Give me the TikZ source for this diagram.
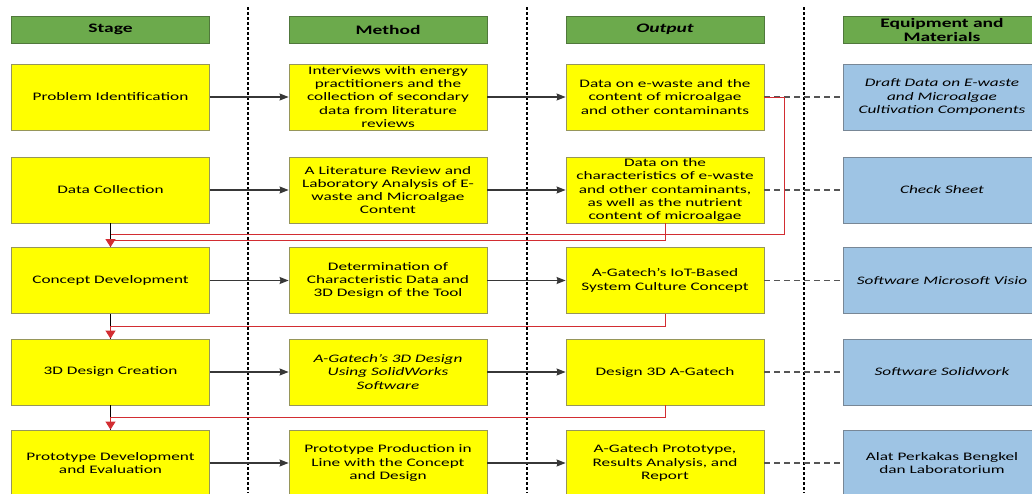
\documentclass[tikz,border=0pt]{standalone}
\usepackage{fontspec}
\setmainfont[FakeStretch=1.5]{Carlito}
\usetikzlibrary{arrows.meta}

\definecolor{headgreen}{RGB}{108,170,76}
\definecolor{headborder}{RGB}{80,120,60}
\definecolor{boxyellow}{RGB}{255,255,0}
\definecolor{yborder}{RGB}{150,150,90}
\definecolor{boxblue}{RGB}{158,196,228}
\definecolor{bborder}{RGB}{120,135,150}
\definecolor{flowgray}{RGB}{55,55,55}
\definecolor{linkgray}{RGB}{85,85,85}
\definecolor{backred}{RGB}{210,45,50}

\tikzset{
	headbox/.style={draw=headborder, fill=headgreen, line width=0.8pt, minimum width=198pt, minimum height=27pt, inner sep=0pt, align=center, font=\fontsize{13}{14}\selectfont\bfseries},
	ybox/.style={draw=yborder, fill=boxyellow, line width=0.8pt, minimum width=198pt, minimum height=66pt, inner sep=0pt, align=center, font=\fontsize{11.5}{13.3}\selectfont},
	bluebox/.style={ybox, draw=bborder, fill=boxblue},
	itext/.style={font=\fontsize{11.5}{13.3}\selectfont\itshape},
	sepline/.style={line width=1.6pt, dash pattern=on 3pt off 2pt},
	fwdarrow/.style={draw=flowgray, line width=1.2pt, -{Stealth[length=9pt, width=7pt, inset=1pt]}},
	eqlink/.style={draw=linkgray, line width=1.2pt, dash pattern=on 6pt off 4pt},
	stemline/.style={line width=1.5pt},
	backline/.style={draw=backred, line width=1pt},
	backtip/.style={backline, -{Triangle[length=8pt, width=10pt, fill=backred]}},
}

\begin{document}
\begin{tikzpicture}[x=1pt, y=-1pt]
		\useasboundingbox (0,0) rectangle (1032,493);
		\clip (0,0) rectangle (1032,493);

		% column separators
		\draw[sepline] (248,7) -- (248,493);
		\draw[sepline] (527,7) -- (527,493);
		\draw[sepline] (804,7) -- (804,493);

		% headers
		\node[headbox] (hstage) at (110.5,29.5) {Stage};
		\node[headbox] (hmethod) at (388,29.5) {Method};
		\node[headbox, font=\fontsize{13}{14}\selectfont\bfseries\itshape] (houtput) at (665,29.5) {Output};
		\node[headbox] (hequip) at (942,29.5) {Equipment and\\Materials};

		% stages
		\node[ybox] (s1) at (110.5,97) {Problem Identification};
		\node[ybox] (s2) at (110.5,190) {Data Collection};
		\node[ybox] (s3) at (110.5,280.5) {Concept Development};
		\node[ybox] (s4) at (110.5,372) {3D Design Creation};
		\node[ybox] (s5) at (110.5,463) {Prototype Development\\and Evaluation};

		% methods
		\node[ybox] (m1) at (388,97) {Interviews with energy\\practitioners and the\\collection of secondary\\data from literature\\reviews};
		\node[ybox] (m2) at (388,190) {A Literature Review and\\Laboratory Analysis of E-\\waste and Microalgae\\Content};
		\node[ybox] (m3) at (388,280.5) {Determination of\\Characteristic Data and\\3D Design of the Tool};
		\node[ybox, itext] (m4) at (388,372) {A-Gatech’s 3D Design\\Using SolidWorks\\Software};
		\node[ybox] (m5) at (388,463) {Prototype Production in\\Line with the Concept\\and Design};

		% outputs
		\node[ybox] (o1) at (665,97) {Data on e-waste and the\\content of microalgae\\and other contaminants};
		\node[ybox] (o2) at (665,190) {Data on the\\characteristics of e-waste\\and other contaminants,\\as well as the nutrient\\content of microalgae};
		\node[ybox] (o3) at (665,280.5) {A-Gatech’s IoT-Based\\System Culture Concept};
		\node[ybox] (o4) at (665,372) {Design 3D A-Gatech};
		\node[ybox] (o5) at (665,463) {A-Gatech Prototype,\\Results Analysis, and\\Report};

		% equipment and materials
		\node[bluebox, itext] (e1) at (942,97) {Draft Data on E-waste\\and Microalgae\\Cultivation Components};
		\node[bluebox, itext] (e2) at (942,190) {Check Sheet};
		\node[bluebox, itext] (e3) at (942,280.5) {Software Microsoft Visio};
		\node[bluebox, itext] (e4) at (942,372) {Software Solidwork};
		\node[bluebox] (e5) at (942,463) {Alat Perkakas Bengkel\\dan Laboratorium};

		% stage -> method -> output
		\draw[fwdarrow] (s1) -- (m1);
		\draw[fwdarrow] (m1) -- (o1);
		\draw[fwdarrow] (s2) -- (m2);
		\draw[fwdarrow] (m2) -- (o2);
		\draw[fwdarrow] (s3) -- (m3);
		\draw[fwdarrow] (m3) -- (o3);
		\draw[fwdarrow] (s4) -- (m4);
		\draw[fwdarrow] (m4) -- (o4);
		\draw[fwdarrow] (s5) -- (m5);
		\draw[fwdarrow] (m5) -- (o5);

		% output - equipment
		\draw[eqlink] (o1) -- (e1);
		\draw[eqlink] (o2) -- (e2);
		\draw[eqlink] (o3) -- (e3);
		\draw[eqlink] (o4) -- (e4);
		\draw[eqlink] (o5) -- (e5);

		% stage to stage
		\draw[stemline] (s2) -- (s3);
		\draw[stemline] (s3) -- (s4);
		\draw[stemline] (s4) -- (s5);

		% feedback from outputs
		\coordinate (j1) at (110.5,234);
		\coordinate (j2) at (110.5,240);
		\coordinate (j3) at (110.5,326);
		\coordinate (j4) at (110.5,417);
		\draw[backline] (o1.east) -- ++(20,0) |- (j1);
		\draw[backtip] (o2.south) |- (j2) -- (s3.north);
		\draw[backtip] (o3.south) |- (j3) -- (s4.north);
		\draw[backtip] (o4.south) |- (j4) -- (s5.north);
	\end{tikzpicture}
\end{document}
